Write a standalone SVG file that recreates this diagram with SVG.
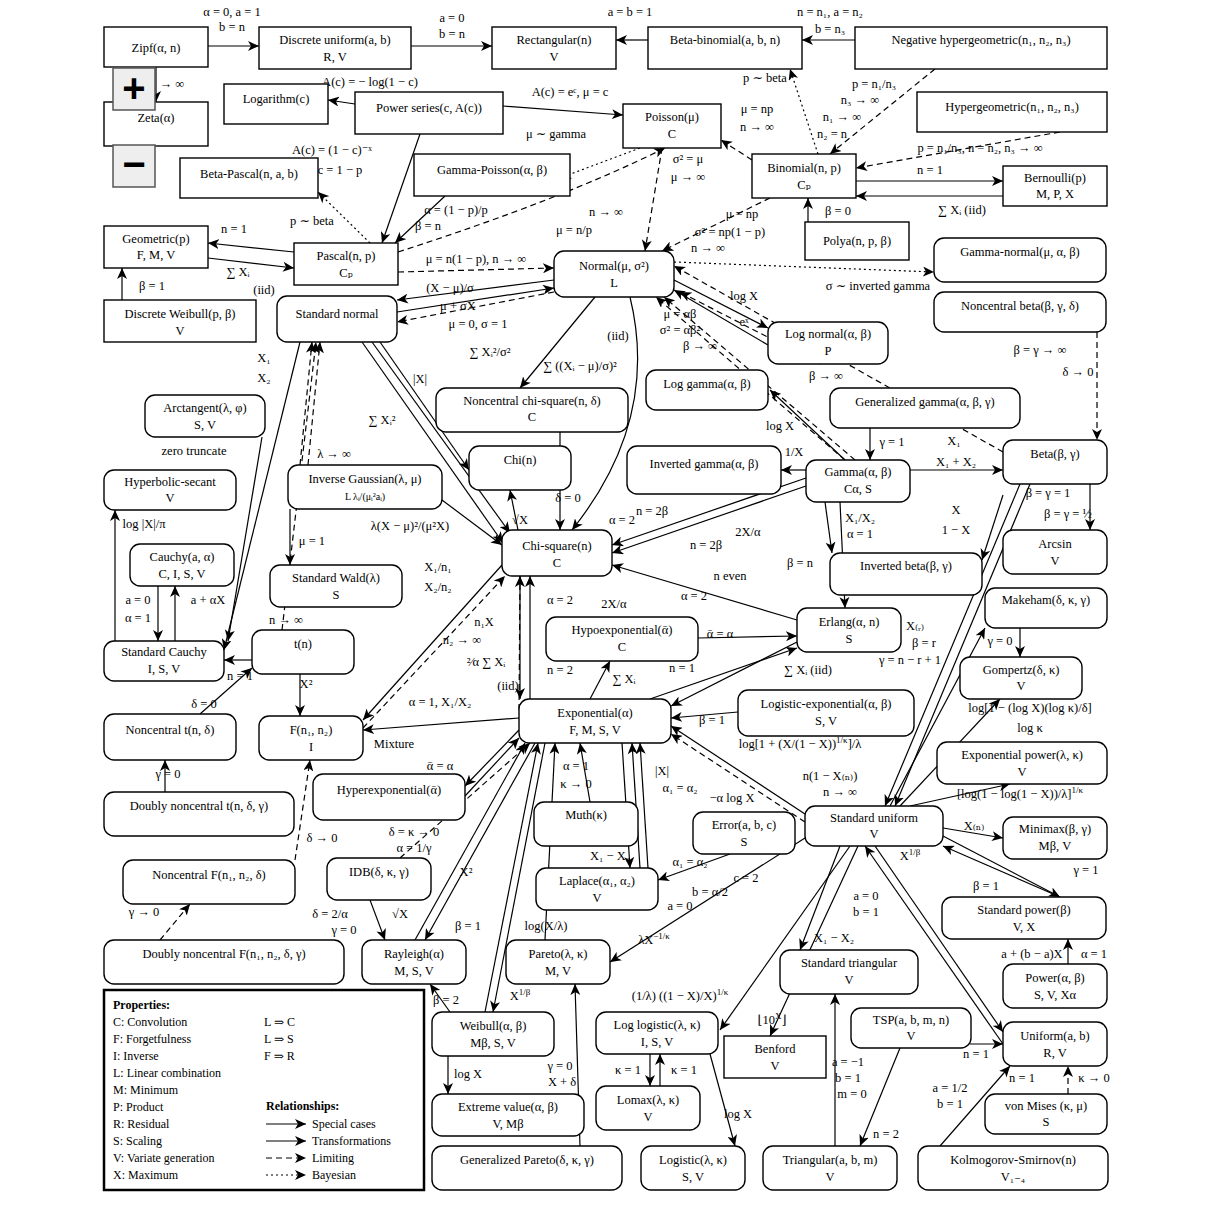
<svg xmlns="http://www.w3.org/2000/svg" width="1212" height="1212" viewBox="0 0 1212 1212">
<style>
rect.s{fill:#fff;stroke:#000;stroke-width:1.4}
rect.r{fill:#fff;stroke:#000;stroke-width:1.4}
text{font-family:"Liberation Serif","DejaVu Serif",serif;font-size:12.5px;fill:#000;text-anchor:middle}
text.l{text-anchor:start;font-size:12px}
tspan.u{font-size:9px}
#edges line,#edges path{stroke:#000;stroke-width:1.2;fill:none;marker-end:url(#a)}
#edges .d{stroke-dasharray:6,4}
#edges .t{stroke-dasharray:2,3}
</style>
<defs>
<marker id="a" viewBox="0 0 12 10" refX="11" refY="5" markerWidth="12" markerHeight="10" markerUnits="userSpaceOnUse" orient="auto">
<path d="M0,0 L11,5 L0,10 L3,5 Z" fill="#000" stroke="none"/>
</marker>
</defs>
<rect width="1212" height="1212" fill="#fff"/>
<g id="edges">
<line x1="208" y1="46" x2="259" y2="46"/>
<line x1="411" y1="46" x2="492" y2="46"/>
<line x1="648" y1="40" x2="616" y2="40"/>
<line x1="855" y1="40" x2="802" y2="40"/>
<line x1="156" y1="67" x2="156" y2="102"/>
<line x1="355" y1="104" x2="328" y2="100"/>
<line x1="503" y1="106" x2="623" y2="115"/>
<line x1="420" y1="134" x2="382" y2="243"/>
<line x1="445" y1="196" x2="395" y2="243"/>
<line class="t" x1="640" y1="148" x2="560" y2="178"/>
<line class="t" x1="370" y1="243" x2="318" y2="192"/>
<line x1="294" y1="252" x2="208" y2="243"/>
<line x1="208" y1="258" x2="294" y2="268"/>
<line x1="122" y1="300" x2="122" y2="268"/>
<line class="d" x1="398" y1="272" x2="554" y2="268"/>
<path class="d" d="M398,252 Q560,200 665,148"/>
<line class="d" x1="662" y1="148" x2="645" y2="251"/>
<line class="d" x1="752" y1="160" x2="721" y2="140"/>
<line class="d" x1="770" y1="198" x2="662" y2="251"/>
<line x1="856" y1="181" x2="1003" y2="181"/>
<line x1="1003" y1="196" x2="856" y2="196"/>
<line class="d" x1="935" y1="69" x2="830" y2="154"/>
<line class="d" x1="1060" y1="132" x2="856" y2="168"/>
<line class="t" x1="818" y1="154" x2="790" y2="69"/>
<line x1="808" y1="222" x2="808" y2="198"/>
<line class="t" x1="674" y1="262" x2="934" y2="272"/>
<line class="d" x1="1003" y1="452" x2="674" y2="266"/>
<line class="d" x1="1097" y1="332" x2="1097" y2="440"/>
<line x1="674" y1="280" x2="768" y2="328"/>
<line x1="768" y1="345" x2="674" y2="290"/>
<line x1="554" y1="280" x2="397" y2="300"/>
<line x1="397" y1="312" x2="554" y2="288"/>
<line class="d" x1="554" y1="292" x2="397" y2="322"/>
<path d="M630,297 Q660,420 572,530"/>
<line x1="595" y1="297" x2="520" y2="388"/>
<line class="d" x1="855" y1="460" x2="664" y2="297"/>
<line class="d" x1="845" y1="460" x2="656" y2="297"/>
<line class="d" x1="820" y1="364" x2="680" y2="292"/>
<line x1="870" y1="428" x2="870" y2="460"/>
<line x1="845" y1="460" x2="770" y2="390"/>
<line x1="806" y1="470" x2="781" y2="470"/>
<line x1="362" y1="342" x2="503" y2="543"/>
<line x1="372" y1="342" x2="510" y2="533"/>
<line x1="380" y1="342" x2="469" y2="470"/>
<line x1="300" y1="342" x2="224" y2="650"/>
<line class="d" x1="300" y1="465" x2="312" y2="342"/>
<line class="d" x1="308" y1="465" x2="320" y2="342"/>
<line x1="442" y1="500" x2="502" y2="545"/>
<line x1="290" y1="509" x2="290" y2="565"/>
<line x1="518" y1="530" x2="510" y2="490"/>
<line x1="560" y1="432" x2="560" y2="530"/>
<line x1="520" y1="576" x2="520" y2="699"/>
<line x1="530" y1="699" x2="530" y2="576"/>
<line x1="806" y1="478" x2="612" y2="545"/>
<line x1="806" y1="486" x2="612" y2="553"/>
<line x1="797" y1="620" x2="612" y2="565"/>
<line x1="840" y1="502" x2="845" y2="608"/>
<line x1="825" y1="502" x2="832" y2="553"/>
<line x1="910" y1="470" x2="1003" y2="470"/>
<line x1="1090" y1="484" x2="1090" y2="530"/>
<line x1="1020" y1="484" x2="885" y2="806"/>
<line x1="1030" y1="484" x2="895" y2="806"/>
<line x1="1003" y1="495" x2="982" y2="560"/>
<line x1="698" y1="638" x2="797" y2="636"/>
<line x1="590" y1="699" x2="610" y2="661"/>
<line x1="650" y1="699" x2="797" y2="648"/>
<line x1="797" y1="642" x2="671" y2="706"/>
<line x1="738" y1="712" x2="671" y2="718"/>
<line x1="519" y1="718" x2="363" y2="730"/>
<line x1="519" y1="730" x2="465" y2="786"/>
<line x1="465" y1="796" x2="519" y2="738"/>
<line x1="252" y1="660" x2="224" y2="660"/>
<line class="d" x1="282" y1="630" x2="316" y2="342"/>
<line x1="300" y1="674" x2="300" y2="716"/>
<line x1="502" y1="565" x2="363" y2="720"/>
<line class="d" x1="363" y1="728" x2="505" y2="576"/>
<line class="d" x1="519" y1="710" x2="520" y2="576"/>
<line x1="200" y1="714" x2="252" y2="668"/>
<line x1="165" y1="792" x2="165" y2="760"/>
<line class="d" x1="295" y1="860" x2="310" y2="760"/>
<line class="d" x1="160" y1="940" x2="190" y2="904"/>
<line x1="115" y1="641" x2="115" y2="510"/>
<line x1="158" y1="586" x2="158" y2="641"/>
<line x1="175" y1="641" x2="175" y2="586"/>
<line x1="262" y1="437" x2="228" y2="641"/>
<line class="d" x1="400" y1="858" x2="530" y2="743"/>
<line x1="370" y1="900" x2="385" y2="940"/>
<line x1="415" y1="940" x2="525" y2="743"/>
<line x1="535" y1="743" x2="425" y2="940"/>
<line x1="485" y1="1012" x2="538" y2="743"/>
<line x1="545" y1="743" x2="493" y2="1012"/>
<line x1="450" y1="1012" x2="430" y2="984"/>
<line x1="448" y1="1056" x2="448" y2="1094"/>
<line x1="545" y1="940" x2="555" y2="743"/>
<line x1="580" y1="1146" x2="575" y2="984"/>
<line x1="622" y1="743" x2="630" y2="868"/>
<line x1="640" y1="868" x2="632" y2="743"/>
<line x1="648" y1="868" x2="640" y2="743"/>
<line x1="590" y1="802" x2="580" y2="743"/>
<line x1="730" y1="854" x2="658" y2="880"/>
<line x1="805" y1="814" x2="671" y2="726"/>
<line class="d" x1="805" y1="822" x2="671" y2="734"/>
<line x1="900" y1="806" x2="1000" y2="699"/>
<line x1="910" y1="806" x2="1010" y2="784"/>
<line x1="890" y1="806" x2="985" y2="628"/>
<line x1="943" y1="828" x2="1003" y2="838"/>
<line x1="943" y1="836" x2="1060" y2="897"/>
<line x1="1060" y1="897" x2="943" y2="846"/>
<line x1="1068" y1="964" x2="1068" y2="939"/>
<line x1="875" y1="846" x2="1003" y2="1032"/>
<line x1="1003" y1="1044" x2="865" y2="846"/>
<line x1="840" y1="846" x2="800" y2="950"/>
<line x1="850" y1="846" x2="720" y2="1030"/>
<line x1="858" y1="846" x2="770" y2="1036"/>
<line x1="805" y1="838" x2="610" y2="962"/>
<line x1="900" y1="1048" x2="860" y2="1146"/>
<line x1="835" y1="1146" x2="835" y2="994"/>
<line x1="970" y1="1044" x2="1003" y2="1044"/>
<line class="d" x1="1068" y1="1094" x2="1068" y2="1066"/>
<line x1="940" y1="1146" x2="1010" y2="1066"/>
<line x1="650" y1="1054" x2="650" y2="1086"/>
<line x1="660" y1="1086" x2="660" y2="1054"/>
<line x1="710" y1="1054" x2="735" y2="1146"/>
<line x1="1020" y1="628" x2="1020" y2="657"/>
</g>
<g id="labels">
<text x="232" y="16">α = 0, a = 1</text><text x="232" y="31">b = n</text>
<text x="452" y="22">a = 0</text><text x="452" y="38">b = n</text>
<text x="630" y="16">a = b = 1</text>
<text x="830" y="16">n = n₁, a = n₂</text><text x="830" y="33">b = n₃</text>
<text x="172" y="88">→ ∞</text>
<text x="370" y="86">A(c) = − log(1 − c)</text>
<text x="570" y="96">A(c) = eᶜ, μ = c</text>
<text x="556" y="138">μ ∼ gamma</text>
<text x="332" y="154">A(c) = (1 − c)⁻ˣ</text><text x="340" y="174">c = 1 − p</text>
<text x="456" y="214">α = (1 − p)/p</text><text x="428" y="230">β = n</text>
<text x="312" y="225">p ∼ beta</text>
<text x="234" y="233">n = 1</text>
<text x="238" y="276">∑ Xᵢ</text><text x="264" y="294">(iid)</text>
<text x="152" y="290">β = 1</text>
<text x="476" y="263">μ = n(1 − p), n → ∞</text>
<text x="606" y="216">n → ∞</text><text x="574" y="234">μ = n/p</text>
<text x="688" y="163">σ² = μ</text><text x="688" y="181">μ → ∞</text>
<text x="757" y="113">μ = np</text><text x="757" y="131">n → ∞</text>
<text x="765" y="82">p ∼ beta</text>
<text x="874" y="88">p = n₁/n₃</text><text x="860" y="104">n₃ → ∞</text><text x="842" y="121">n₁ → ∞</text><text x="832" y="138">n₂ = n</text>
<text x="980" y="152">p = n₁/n₃, n = n₂, n₃ → ∞</text>
<text x="930" y="174">n = 1</text>
<text x="962" y="214">∑ Xᵢ (iid)</text>
<text x="838" y="215">β = 0</text>
<text x="742" y="218">μ = np</text><text x="730" y="236">σ² = np(1 − p)</text><text x="708" y="252">n → ∞</text>
<text x="878" y="290">σ ∼ inverted gamma</text>
<text x="1040" y="354">β = γ → ∞</text>
<text x="1078" y="376">δ → 0</text>
<text x="744" y="300">log X</text><text x="744" y="326">eˣ</text>
<text x="450" y="292">(X − μ)/σ</text><text x="458" y="310">μ + σX</text><text x="478" y="328">μ = 0, σ = 1</text>
<text x="490" y="356">∑ Xᵢ²/σ²</text>
<text x="580" y="370">∑ ((Xᵢ − μ)/σ)²</text><text x="618" y="340">(iid)</text>
<text x="680" y="318">μ = αβ</text><text x="680" y="334">σ² = αβ²</text><text x="700" y="350">β → ∞</text>
<text x="826" y="380">β → ∞</text>
<text x="780" y="430">log X</text>
<text x="892" y="446">γ = 1</text>
<text x="794" y="456">1/X</text>
<text x="954" y="445">X₁</text><text x="956" y="466">X₁ + X₂</text>
<text x="264" y="362">X₁</text><text x="264" y="382">X₂</text>
<text x="420" y="383">|X|</text>
<text x="382" y="424">∑ Xᵢ²</text>
<text x="194" y="455">zero truncate</text>
<text x="334" y="458">λ → ∞</text>
<text x="144" y="528">log |X|/π</text>
<text x="410" y="530">λ(X − μ)²/(μ²X)</text>
<text x="520" y="524">√X</text>
<text x="568" y="502">δ = 0</text>
<text x="312" y="545">μ = 1</text>
<text x="438" y="571">X₁/n₁</text><text x="438" y="591">X₂/n₂</text>
<text x="652" y="515">n = 2β</text><text x="622" y="524">α = 2</text><text x="706" y="549">n = 2β</text><text x="748" y="536">2X/α</text>
<text x="730" y="580">n even</text><text x="694" y="600">α = 2</text>
<text x="800" y="567">β = n</text>
<text x="860" y="522">X₁/X₂</text><text x="860" y="538">α = 1</text>
<text x="956" y="514">X</text><text x="956" y="534">1 − X</text>
<text x="1048" y="497">β = γ = 1</text><text x="1068" y="518">β = γ = ½</text>
<text x="560" y="604">α = 2</text><text x="614" y="608">2X/α</text>
<text x="720" y="638">ᾱ = α</text>
<text x="138" y="604">a = 0</text><text x="138" y="622">α = 1</text><text x="208" y="604">a + αX</text>
<text x="286" y="624">n → ∞</text>
<text x="484" y="626">n₁X</text><text x="462" y="644">n₂ → ∞</text>
<text x="486" y="666">²⁄α ∑ Xᵢ</text><text x="508" y="690">(iid)</text>
<text x="560" y="674">n = 2</text>
<text x="624" y="683">∑ Xᵢ</text><text x="682" y="672">n = 1</text>
<text x="808" y="674">∑ Xᵢ (iid)</text>
<text x="915" y="630">X₍ᵣ₎</text><text x="924" y="647">β = r</text><text x="910" y="664">γ = n − r + 1</text>
<text x="1000" y="645">γ = 0</text>
<text x="1030" y="712">log[1 − (log X)(log κ)/δ]</text><text x="1030" y="732">log κ</text>
<text x="240" y="680">n = 1</text><text x="306" y="688">X²</text>
<text x="204" y="708">δ = 0</text>
<text x="440" y="706">α = 1, X₁/X₂</text>
<text x="394" y="748">Mixture</text>
<text x="440" y="770">ᾱ = α</text>
<text x="712" y="724">β = 1</text>
<text x="800" y="748">log[1 + (X/(1 − X))<tspan class="u" dy="-5">1/κ</tspan><tspan dy="5">]/λ</tspan></text>
<text x="830" y="780">n(1 − X₍ₙ₎)</text><text x="840" y="796">n → ∞</text>
<text x="1020" y="798">[log(1 − log(1 − X))/λ]<tspan class="u" dy="-5">1/κ</tspan></text>
<text x="732" y="802">−α log X</text>
<text x="576" y="770">α = 1</text><text x="576" y="788">κ → 0</text>
<text x="662" y="775">|X|</text><text x="680" y="792">α₁ = α₂</text>
<text x="610" y="860">X₁ − X₂</text>
<text x="690" y="866">α₁ = α₂</text>
<text x="746" y="882">c = 2</text><text x="710" y="896">b = α/2</text><text x="680" y="910">a = 0</text>
<text x="974" y="830">X₍ₙ₎</text>
<text x="910" y="860">X<tspan class="u" dy="-5">1/β</tspan></text>
<text x="986" y="890">β = 1</text>
<text x="1086" y="874">γ = 1</text>
<text x="1094" y="958">α = 1</text>
<text x="168" y="778">γ = 0</text>
<text x="322" y="842">δ → 0</text>
<text x="414" y="836">δ = κ → 0</text><text x="414" y="852">α = 1/γ</text>
<text x="466" y="876">X²</text>
<text x="330" y="918">δ = 2/α</text><text x="344" y="934">γ = 0</text><text x="400" y="918">√X</text>
<text x="144" y="916">γ → 0</text>
<text x="468" y="930">β = 1</text>
<text x="446" y="1004">β = 2</text><text x="520" y="1000">X<tspan class="u" dy="-5">1/β</tspan></text>
<text x="546" y="930">log(X/λ)</text>
<text x="654" y="944">λX<tspan class="u" dy="-5">−1/κ</tspan></text>
<text x="866" y="900">a = 0</text><text x="866" y="916">b = 1</text>
<text x="834" y="942">X₁ − X₂</text>
<text x="1032" y="958">a + (b − a)X</text>
<text x="680" y="1000">(1/λ) ((1 − X)/X)<tspan class="u" dy="-5">1/κ</tspan></text>
<text x="772" y="1024">⌊10<tspan class="u" dy="-5">X</tspan><tspan dy="5">⌋</tspan></text>
<text x="848" y="1066">a = −1</text><text x="848" y="1082">b = 1</text><text x="852" y="1098">m = 0</text>
<text x="886" y="1138">n = 2</text>
<text x="976" y="1058">n = 1</text>
<text x="1022" y="1082">n = 1</text><text x="1094" y="1082">κ → 0</text>
<text x="950" y="1092">a = 1/2</text><text x="950" y="1108">b = 1</text>
<text x="628" y="1074">κ = 1</text><text x="684" y="1074">κ = 1</text>
<text x="738" y="1118">log X</text>
<text x="468" y="1078">log X</text>
<text x="560" y="1070">γ = 0</text><text x="562" y="1086">X + δ</text>
</g>
<g id="zipf"><rect class="s" x="104" y="27" width="104" height="40"/><text x="156" y="52">Zipf(α, n)</text></g>
<g id="duni"><rect class="s" x="259" y="27" width="152" height="42"/><text x="335" y="44">Discrete uniform(a, b)</text><text x="335" y="61">R, V</text></g>
<g id="rect"><rect class="s" x="492" y="27" width="124" height="42"/><text x="554" y="44">Rectangular(n)</text><text x="554" y="61">V</text></g>
<g id="betabin"><rect class="s" x="648" y="27" width="154" height="42"/><text x="725" y="44">Beta-binomial(a, b, n)</text></g>
<g id="neghyp"><rect class="s" x="855" y="27" width="252" height="42"/><text x="981" y="44">Negative hypergeometric(n₁, n₂, n₃)</text></g>
<g id="zeta"><rect class="s" x="104" y="102" width="104" height="44"/><text x="156" y="122">Zeta(α)</text></g>
<g id="zoom"><rect x="113" y="68" width="42" height="42" fill="#eee" stroke="#555" stroke-width="1.5"/><text x="134" y="102" style="font-family:'Liberation Sans',sans-serif;font-size:40px;font-weight:bold">+</text><rect x="113" y="145" width="42" height="42" fill="#eee" stroke="#555" stroke-width="1.5"/><text x="134" y="178" style="font-family:'Liberation Sans',sans-serif;font-size:40px;font-weight:bold">−</text></g>
<g id="log"><rect class="s" x="224" y="84" width="104" height="40"/><text x="276" y="103">Logarithm(c)</text></g>
<g id="powser"><rect class="s" x="355" y="92" width="148" height="42"/><text x="429" y="112">Power series(c, A(c))</text></g>
<g id="poisson"><rect class="s" x="623" y="104" width="98" height="44"/><text x="672" y="121">Poisson(μ)</text><text x="672" y="138">C</text></g>
<g id="hyp"><rect class="s" x="917" y="92" width="190" height="40"/><text x="1012" y="111">Hypergeometric(n₁, n₂, n₃)</text></g>
<g id="betapascal"><rect class="s" x="180" y="158" width="138" height="40"/><text x="249" y="178">Beta-Pascal(n, a, b)</text></g>
<g id="gampois"><rect class="s" x="414" y="154" width="156" height="42"/><text x="492" y="174">Gamma-Poisson(α, β)</text></g>
<g id="binom"><rect class="s" x="752" y="154" width="104" height="44"/><text x="804" y="172">Binomial(n, p)</text><text x="804" y="189">Cₚ</text></g>
<g id="bern"><rect class="s" x="1003" y="166" width="104" height="40"/><text x="1055" y="182">Bernoulli(p)</text><text x="1055" y="198">M, P, X</text></g>
<g id="geom"><rect class="s" x="104" y="226" width="104" height="42"/><text x="156" y="243">Geometric(p)</text><text x="156" y="259">F, M, V</text></g>
<g id="pascal"><rect class="s" x="294" y="243" width="104" height="42"/><text x="346" y="260">Pascal(n, p)</text><text x="346" y="277">Cₚ</text></g>
<g id="polya"><rect class="s" x="805" y="222" width="104" height="38"/><text x="857" y="245">Polya(n, p, β)</text></g>
<g id="normal"><rect class="r" x="554" y="251" width="120" height="46" rx="10"/><text x="614" y="270">Normal(μ, σ²)</text><text x="614" y="287">L</text></g>
<g id="gamnorm"><rect class="r" x="934" y="238" width="172" height="44" rx="10"/><text x="1020" y="256">Gamma-normal(μ, α, β)</text></g>
<g id="dweib"><rect class="s" x="104" y="300" width="152" height="42"/><text x="180" y="318">Discrete Weibull(p, β)</text><text x="180" y="335">V</text></g>
<g id="stdnorm"><rect class="r" x="277" y="296" width="120" height="46" rx="10"/><text x="337" y="318">Standard normal</text></g>
<g id="ncbeta"><rect class="r" x="934" y="292" width="172" height="40" rx="10"/><text x="1020" y="310">Noncentral beta(β, γ, δ)</text></g>
<g id="lognorm"><rect class="r" x="768" y="322" width="120" height="42" rx="10"/><text x="828" y="338">Log normal(α, β)</text><text x="828" y="355">P</text></g>
<g id="arctan"><rect class="r" x="145" y="395" width="120" height="42" rx="10"/><text x="205" y="412">Arctangent(λ, φ)</text><text x="205" y="429">S, V</text></g>
<g id="ncchi"><rect class="r" x="436" y="388" width="192" height="44" rx="10"/><text x="532" y="405">Noncentral chi-square(n, δ)</text><text x="532" y="421">C</text></g>
<g id="loggam"><rect class="r" x="646" y="370" width="122" height="40" rx="10"/><text x="707" y="388">Log gamma(α, β)</text></g>
<g id="gengam"><rect class="r" x="830" y="388" width="190" height="40" rx="10"/><text x="925" y="406">Generalized gamma(α, β, γ)</text></g>
<g id="chi"><rect class="r" x="469" y="446" width="102" height="44" rx="10"/><text x="520" y="464">Chi(n)</text></g>
<g id="invgam"><rect class="r" x="627" y="446" width="154" height="48" rx="10"/><text x="704" y="468">Inverted gamma(α, β)</text></g>
<g id="gamma"><rect class="r" x="806" y="460" width="104" height="42" rx="10"/><text x="858" y="476">Gamma(α, β)</text><text x="858" y="493">Cα, S</text></g>
<g id="beta"><rect class="r" x="1003" y="440" width="104" height="44" rx="10"/><text x="1055" y="458">Beta(β, γ)</text></g>
<g id="hypsec"><rect class="r" x="104" y="470" width="132" height="40" rx="10"/><text x="170" y="486">Hyperbolic-secant</text><text x="170" y="502">V</text></g>
<g id="invgauss"><rect class="r" x="288" y="465" width="154" height="44" rx="10"/><text x="365" y="483">Inverse Gaussian(λ, μ)</text><text x="365" y="500" style="font-size:10px">L λᵢ/(μᵢ²aᵢ)</text></g>
<g id="chisq"><rect class="r" x="502" y="530" width="110" height="46" rx="10"/><text x="557" y="550">Chi-square(n)</text><text x="557" y="567">C</text></g>
<g id="cauchy"><rect class="r" x="130" y="544" width="104" height="42" rx="10"/><text x="182" y="561">Cauchy(a, α)</text><text x="182" y="578">C, I, S, V</text></g>
<g id="arcsin"><rect class="r" x="1003" y="530" width="104" height="44" rx="10"/><text x="1055" y="548">Arcsin</text><text x="1055" y="565">V</text></g>
<g id="wald"><rect class="r" x="270" y="565" width="132" height="42" rx="10"/><text x="336" y="582">Standard Wald(λ)</text><text x="336" y="599">S</text></g>
<g id="invbeta"><rect class="r" x="830" y="553" width="152" height="42" rx="10"/><text x="906" y="570">Inverted beta(β, γ)</text></g>
<g id="makeham"><rect class="r" x="985" y="588" width="122" height="40" rx="10"/><text x="1046" y="604">Makeham(δ, κ, γ)</text></g>
<g id="hypoexp"><rect class="r" x="546" y="617" width="152" height="44" rx="10"/><text x="622" y="634">Hypoexponential(ᾱ)</text><text x="622" y="651">C</text></g>
<g id="erlang"><rect class="r" x="797" y="608" width="104" height="44" rx="10"/><text x="849" y="626">Erlang(α, n)</text><text x="849" y="643">S</text></g>
<g id="t"><rect class="r" x="252" y="630" width="102" height="44" rx="10"/><text x="303" y="648">t(n)</text></g>
<g id="stdcauchy"><rect class="r" x="104" y="641" width="120" height="40" rx="10"/><text x="164" y="656">Standard Cauchy</text><text x="164" y="673">I, S, V</text></g>
<g id="gompertz"><rect class="r" x="960" y="657" width="122" height="42" rx="10"/><text x="1021" y="674">Gompertz(δ, κ)</text><text x="1021" y="690">V</text></g>
<g id="exp"><rect class="r" x="519" y="699" width="152" height="44" rx="10"/><text x="595" y="717">Exponential(α)</text><text x="595" y="734">F, M, S, V</text></g>
<g id="logexp"><rect class="r" x="738" y="690" width="176" height="46" rx="10"/><text x="826" y="708">Logistic-exponential(α, β)</text><text x="826" y="725">S, V</text></g>
<g id="nct"><rect class="r" x="104" y="714" width="132" height="46" rx="10"/><text x="170" y="734">Noncentral t(n, δ)</text></g>
<g id="F"><rect class="r" x="259" y="716" width="104" height="44" rx="10"/><text x="311" y="734">F(n₁, n₂)</text><text x="311" y="751">I</text></g>
<g id="exppow"><rect class="r" x="937" y="742" width="170" height="42" rx="10"/><text x="1022" y="759">Exponential power(λ, κ)</text><text x="1022" y="776">V</text></g>
<g id="hyperexp"><rect class="r" x="313" y="774" width="152" height="46" rx="10"/><text x="389" y="794">Hyperexponential(ᾱ)</text></g>
<g id="muth"><rect class="r" x="534" y="802" width="104" height="44" rx="10"/><text x="586" y="819">Muth(κ)</text></g>
<g id="error"><rect class="r" x="693" y="812" width="102" height="42" rx="10"/><text x="744" y="829">Error(a, b, c)</text><text x="744" y="846">S</text></g>
<g id="stduni"><rect class="r" x="805" y="806" width="138" height="40" rx="10"/><text x="874" y="822">Standard uniform</text><text x="874" y="838">V</text></g>
<g id="minimax"><rect class="r" x="1003" y="817" width="104" height="42" rx="10"/><text x="1055" y="833">Minimax(β, γ)</text><text x="1055" y="850">Mβ, V</text></g>
<g id="dnct"><rect class="r" x="104" y="792" width="190" height="44" rx="10"/><text x="199" y="810">Doubly noncentral t(n, δ, γ)</text></g>
<g id="ncf"><rect class="r" x="123" y="860" width="172" height="44" rx="10"/><text x="209" y="879">Noncentral F(n₁, n₂, δ)</text></g>
<g id="idb"><rect class="r" x="327" y="858" width="104" height="42" rx="10"/><text x="379" y="876">IDB(δ, κ, γ)</text></g>
<g id="laplace"><rect class="r" x="536" y="868" width="122" height="42" rx="10"/><text x="597" y="885">Laplace(α₁, α₂)</text><text x="597" y="902">V</text></g>
<g id="stdpow"><rect class="r" x="942" y="897" width="164" height="42" rx="10"/><text x="1024" y="914">Standard power(β)</text><text x="1024" y="931">V, X</text></g>
<g id="dncf"><rect class="r" x="104" y="940" width="240" height="44" rx="10"/><text x="224" y="958">Doubly noncentral F(n₁, n₂, δ, γ)</text></g>
<g id="rayleigh"><rect class="r" x="362" y="940" width="104" height="44" rx="10"/><text x="414" y="958">Rayleigh(α)</text><text x="414" y="975">M, S, V</text></g>
<g id="pareto"><rect class="r" x="506" y="940" width="104" height="44" rx="10"/><text x="558" y="958">Pareto(λ, κ)</text><text x="558" y="975">M, V</text></g>
<g id="stdtri"><rect class="r" x="780" y="950" width="138" height="44" rx="10"/><text x="849" y="967">Standard triangular</text><text x="849" y="984">V</text></g>
<g id="power"><rect class="r" x="1003" y="964" width="104" height="44" rx="10"/><text x="1055" y="982">Power(α, β)</text><text x="1055" y="999">S, V, Xα</text></g>
<g id="weibull"><rect class="r" x="432" y="1012" width="122" height="44" rx="10"/><text x="493" y="1030">Weibull(α, β)</text><text x="493" y="1047">Mβ, S, V</text></g>
<g id="loglogis"><rect class="r" x="596" y="1012" width="122" height="42" rx="10"/><text x="657" y="1029">Log logistic(λ, κ)</text><text x="657" y="1046">I, S, V</text></g>
<g id="benford"><rect class="s" x="724" y="1036" width="102" height="42"/><text x="775" y="1053">Benford</text><text x="775" y="1070">V</text></g>
<g id="tsp"><rect class="r" x="851" y="1008" width="120" height="40" rx="10"/><text x="911" y="1024">TSP(a, b, m, n)</text><text x="911" y="1040">V</text></g>
<g id="uniform"><rect class="r" x="1003" y="1022" width="104" height="44" rx="10"/><text x="1055" y="1040">Uniform(a, b)</text><text x="1055" y="1057">R, V</text></g>
<g id="extval"><rect class="r" x="432" y="1094" width="152" height="42" rx="10"/><text x="508" y="1111">Extreme value(α, β)</text><text x="508" y="1128">V, Mβ</text></g>
<g id="lomax"><rect class="r" x="596" y="1086" width="104" height="44" rx="10"/><text x="648" y="1104">Lomax(λ, κ)</text><text x="648" y="1121">V</text></g>
<g id="vonmises"><rect class="r" x="985" y="1094" width="122" height="40" rx="10"/><text x="1046" y="1110">von Mises (κ, μ)</text><text x="1046" y="1126">S</text></g>
<g id="genpareto"><rect class="r" x="432" y="1146" width="190" height="44" rx="10"/><text x="527" y="1164">Generalized Pareto(δ, κ, γ)</text></g>
<g id="logistic"><rect class="r" x="641" y="1146" width="104" height="44" rx="10"/><text x="693" y="1164">Logistic(λ, κ)</text><text x="693" y="1181">S, V</text></g>
<g id="tri"><rect class="r" x="763" y="1146" width="134" height="44" rx="10"/><text x="830" y="1164">Triangular(a, b, m)</text><text x="830" y="1181">V</text></g>
<g id="ks"><rect class="r" x="918" y="1146" width="190" height="44" rx="10"/><text x="1013" y="1164">Kolmogorov-Smirnov(n)</text><text x="1013" y="1181">V₁₋₄</text></g>
<g id="legend">
<rect x="104" y="990" width="320" height="200" fill="#fff" stroke="#000" stroke-width="2.5"/>
<text class="l" x="113" y="1009" style="font-weight:bold">Properties:</text>
<text class="l" x="113" y="1026">C: Convolution</text><text class="l" x="264" y="1026">L ⇒ C</text>
<text class="l" x="113" y="1043">F: Forgetfulness</text><text class="l" x="264" y="1043">L ⇒ S</text>
<text class="l" x="113" y="1060">I: Inverse</text><text class="l" x="264" y="1060">F ⇒ R</text>
<text class="l" x="113" y="1077">L: Linear combination</text>
<text class="l" x="113" y="1094">M: Minimum</text>
<text class="l" x="113" y="1111">P: Product</text><text class="l" x="266" y="1110" style="font-weight:bold">Relationships:</text>
<text class="l" x="113" y="1128">R: Residual</text><text class="l" x="312" y="1128">Special cases</text>
<text class="l" x="113" y="1145">S: Scaling</text><text class="l" x="312" y="1145">Transformations</text>
<text class="l" x="113" y="1162">V: Variate generation</text><text class="l" x="312" y="1162">Limiting</text>
<text class="l" x="113" y="1179">X: Maximum</text><text class="l" x="312" y="1179">Bayesian</text>
<g style="stroke:#000;stroke-width:1.2;marker-end:url(#a)">
<line x1="266" y1="1124" x2="306" y2="1124"/>
<line x1="266" y1="1141" x2="306" y2="1141"/>
<line x1="266" y1="1158" x2="306" y2="1158" stroke-dasharray="6,4"/>
<line x1="266" y1="1175" x2="306" y2="1175" stroke-dasharray="2,3"/>
</g>
</g>
</svg>
